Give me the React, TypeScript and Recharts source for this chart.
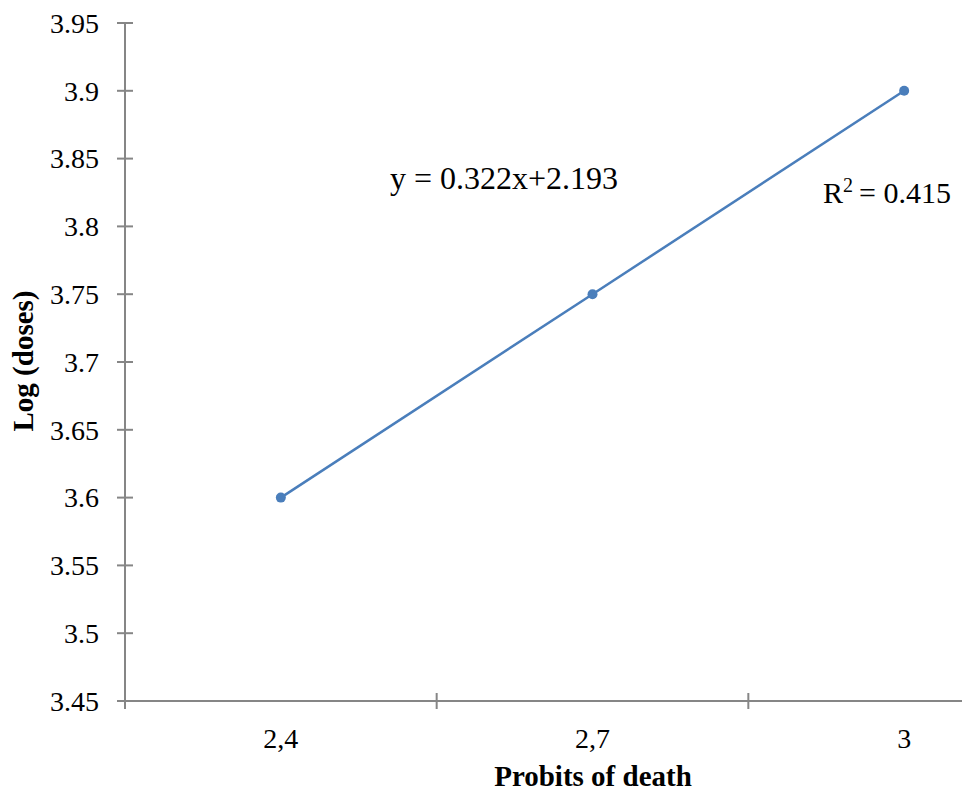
import { Line, LineChart, XAxis, YAxis } from "recharts";

const categories = ["2,4", "2,7", "3"];
const logDoses = [3.6, 3.75, 3.9];
const yTicks = [3.45, 3.5, 3.55, 3.6, 3.65, 3.7, 3.75, 3.8, 3.85, 3.9, 3.95];
const xTicks = [0, 0.5, 1, 1.5, 2, 2.5, 3];

const AXIS = "#868686";
const BLUE = "#4a7ebb";
const serif = { fontFamily: '"Times New Roman", "Liberation Serif", serif' };

const data = categories.map((c, i) => ({ x: i + 0.5, label: c, logDose: logDoses[i] }));

function fmtY(v: number): string {
  return String(Number(v.toFixed(2)));
}

function XTick(props: any) {
  const { x, y, payload } = props;
  const v = payload.value as number;
  if (Number.isInteger(v)) {
    return <line x1={x} x2={x} y1={y - 8} y2={y + 8} stroke={AXIS} strokeWidth={2} />;
  }
  return (
    <text x={x} y={y + 47} textAnchor="middle" fontSize={28} style={serif} fill="#000">
      {categories[Math.floor(v)]}
    </text>
  );
}

function YTick(props: any) {
  const { x, y, payload } = props;
  return (
    <g>
      <line x1={x - 8} x2={x + 8} y1={y} y2={y} stroke={AXIS} strokeWidth={2} />
      <text x={x - 26} y={y} dy="0.35em" textAnchor="end" fontSize={28} style={serif} fill="#000">
        {fmtY(payload.value)}
      </text>
    </g>
  );
}

export default function App() {
  return (
    <div
      style={{
        position: "absolute",
        left: 0,
        top: 0,
        width: 962,
        height: 794,
        overflow: "hidden",
        background: "#fff",
        ...serif,
      }}
    >
      <LineChart width={1060} height={794} data={data} margin={{ top: 23, right: 0, bottom: 0, left: 0 }}>
        <XAxis
          dataKey="x"
          type="number"
          domain={[0, 3]}
          ticks={xTicks}
          interval={0}
          height={93}
          tickSize={0}
          tickMargin={0}
          tick={<XTick />}
          axisLine={{ stroke: AXIS, strokeWidth: 2 }}
          tickLine={false}
        />
        <YAxis
          type="number"
          domain={[3.45, 3.95]}
          ticks={yTicks}
          interval={0}
          width={125}
          tickSize={0}
          tickMargin={0}
          tick={<YTick />}
          axisLine={{ stroke: AXIS, strokeWidth: 2 }}
          tickLine={false}
        />
        <Line
          type="linear"
          dataKey="logDose"
          stroke={BLUE}
          strokeWidth={2.5}
          dot={{ r: 5, fill: BLUE, stroke: BLUE, strokeWidth: 0 }}
          isAnimationActive={false}
        />
      </LineChart>
      <svg
        width={962}
        height={794}
        style={{ position: "absolute", left: 0, top: 0, pointerEvents: "none", ...serif }}
      >
        <text x={390} y={189} fontSize={32} fill="#000" style={serif}>
          y = 0.322x+2.193
        </text>
        <text x={823} y={203} fontSize={30} fill="#000" style={serif}>
          R
          <tspan fontSize={20} dy={-11}>
            2
          </tspan>
          <tspan dy={11}>{"\u2009= 0.415"}</tspan>
        </text>
        <text x={593} y={786} textAnchor="middle" fontSize={29} fontWeight="bold" fill="#000" style={serif}>
          Probits of death
        </text>
        <text
          x={33}
          y={361}
          textAnchor="middle"
          fontSize={29}
          fontWeight="bold"
          fill="#000"
          style={serif}
          transform="rotate(-90 33 361)"
        >
          Log (doses)
        </text>
      </svg>
    </div>
  );
}
